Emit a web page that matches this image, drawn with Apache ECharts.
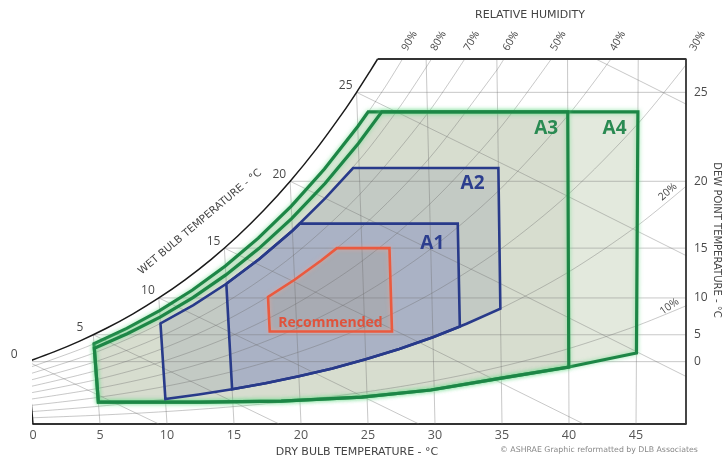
<!DOCTYPE html>
<html><head><meta charset="utf-8">
<script src="https://cdn.jsdelivr.net/npm/echarts/dist/echarts.min.js"></script>
<style>html,body{margin:0;padding:0;background:#fff}#c{width:722px;height:459px}</style>
</head><body><div id="c"></div>
<script>
// ---------- data (dry bulb T in °C, humidity ratio W in g/kg) ----------
const dryBulbTicks = [0,5,10,15,20,25,30,35,40,45];
const dryBulbGrid = [5,10,15,20,25,30,35,40,45];
const dryBulbGridEndW = [5.40,7.63,10.65,14.70,20.08,22.1,22.1,22.1,22.1];
const dewPointTicks = [0,5,10,15,20,25];
const dewPointW = [3.775,5.403,7.632,10.649,14.696,20.081];
const wetBulbTicks = [0,5,10,15,20,25];
// wet-bulb lines (0..30 °C): start / end points
const wbStartT = [0,5,10,15,20,25,42.0];
const wbStartW = [3.775,5.403,7.632,10.649,14.696,20.081,22.1];
const wbEndT = [9.39,18.37,28.8,41.1,48.73,48.73,48.73];
const wbEndW = [0,0,0,0,2.86,10.13,19.24];
const satT = [0,2,4,6,8,10,12,14,16,18,20,22,24,25,26,26.57];
const satW = [3.775,4.364,5.034,5.795,6.657,7.632,8.732,9.972,11.367,12.936,14.696,16.671,18.881,20.081,21.352,22.1];
const rhLevels = ['10%','20%','30%','40%','50%','60%','70%','80%','90%'];
const rhT = [
  [0,5,10,15,20,25,30,35,40,45,48.8],
  [0,5,10,15,20,25,30,35,40,45,48.8],
  [0,5,10,15,20,25,30,35,40,45,48.7],
  [0,5,10,15,20,25,30,35,40,43.07],
  [0,5,10,15,20,25,30,35,38.85],
  [0,5,10,15,20,25,30,35,35.5],
  [0,5,10,15,20,25,30,32.73],
  [0,5,10,15,20,25,28,30.38],
  [0,5,10,15,20,25,27,28.33]
];
const rhW = [
  [0.376,0.536,0.755,1.049,1.439,1.951,2.617,3.473,4.564,5.943,7.22],
  [0.751,1.073,1.511,2.101,2.885,3.915,5.256,6.986,9.197,12.0,14.61],
  [1.128,1.611,2.27,3.157,4.337,5.891,7.918,10.538,13.897,18.177,22.1],
  [1.505,2.15,3.03,4.216,5.796,7.88,10.602,14.13,18.669,22.1],
  [1.882,2.69,3.792,5.279,7.262,9.881,13.31,17.763,22.1],
  [2.26,3.231,4.557,6.346,8.735,11.895,16.04,21.44,22.1],
  [2.638,3.772,5.322,7.417,10.215,13.922,18.794,22.1],
  [3.017,4.315,6.09,8.49,11.702,15.962,19.151,22.1],
  [3.396,4.859,6.86,9.568,13.195,18.015,20.352,22.1]
];
// envelope outlines
const lowT = [45,40,35,29.75,24.6,18.6,12.6];
const lowW = [4.30,3.45,2.78,2.06,1.63,1.39,1.33];
const a4T = [5,5,7.5,10,12.5,15,17.5,20,22.5,25,25.78,45].concat(lowT);
const a4W = [1.33,4.859,5.786,6.86,8.112,9.568,11.255,13.195,15.439,18.015,18.9,18.9].concat(lowW);
const a3T = [5,5,7.5,10,12.5,15,17.5,20,22.5,25,26.75,40].concat(lowT.slice(1));
const a3W = [1.33,4.587,5.462,6.475,7.656,9.029,10.619,12.448,14.561,16.987,18.9,18.9].concat(lowW.slice(1));
const a2T = [10,10,12.5,15,17.5,20,22.5,24.56,35,35,32.5,30,27.5,25,22.5,20,17.5,15,12.5];
const a2W = [1.511,6.09,7.2,8.49,9.984,11.702,13.686,15.5,15.5,6.986,6.07,5.256,4.54,3.915,3.366,2.885,2.466,2.101,1.785];
const a1T = [15,15,17.5,20,20.56,32,32,30,27.5,25,22.5,20,17.5];
const a1W = [2.101,8.49,9.984,11.702,12.13,12.13,5.897,5.256,4.54,3.915,3.366,2.885,2.466];
const recT = [18,18,20,22,23.18,27,27];
const recW = [5.6,7.7,8.735,9.896,10.649,10.649,5.6];

// ---------- chart geometry ----------
const X_MAX = 48.73, W_MAX = 22.1;
const LEAN_A = 0.105, LEAN_B = 0.0025; // lean of the chart's dry-bulb lines (°C per g/kg)
const P = (T, W) => [T - (LEAN_A - LEAN_B * T) * W, W];
const pts = (Ts, Ws) => Ts.map((t, i) => P(t, Ws[i]));

const GRID = 'rgba(110,110,110,0.38)';
const series = [];
function poly(points, style, z) {
  series.push({ type: 'custom', coordinateSystem: 'cartesian2d', silent: true, clip: false, z: z,
    data: points,
    renderItem: (params, api) => params.dataIndex === 0 ? {
      type: 'polygon', shape: { points: points.map(p => api.coord(p)) }, style: style } : null });
}
function line(points, color, width, z, smooth, clip) {
  series.push({ type: 'line', data: points, symbol: 'none', silent: true, smooth: smooth || false,
    clip: clip === undefined ? true : clip, z: z, lineStyle: { color: color, width: width }, animation: false });
}
function texts(items, z) {
  series.push({ type: 'custom', coordinateSystem: 'cartesian2d', silent: true, clip: false, z: z || 20,
    data: items.map(it => it.p),
    renderItem: (params, api) => {
      const it = items[params.dataIndex];
      const c = api.coord(it.p);
      return { type: 'text', x: c[0] + (it.dx || 0), y: c[1] + (it.dy || 0), rotation: (it.rot || 0) * Math.PI / 180,
        style: { text: it.text, fill: it.color, fontSize: it.size, fontWeight: it.weight || 'normal',
          fontFamily: it.font || 'Open Sans, sans-serif', align: it.align || 'center', verticalAlign: 'middle' } };
    } });
}

// fills
const fill = (Ts, Ws, color, z) => poly(pts(Ts, Ws), { fill: color, stroke: null }, z);
fill(a4T, a4W, '#e3e9dd', 1);
fill(a3T, a3W, '#d7ddcf', 2);
fill(a2T, a2W, '#c3cac4', 3);
fill(a1T, a1W, '#aab2c5', 4);
fill(recT, recW, '#a8abb3', 5);

// grid lines
dryBulbGrid.forEach((t, i) => line([P(t, 0), P(t, dryBulbGridEndW[i] / 2), P(t, dryBulbGridEndW[i])], GRID, 1, 6));
dewPointTicks.forEach((d, i) => line([P(d, dewPointW[i]), [X_MAX, dewPointW[i]]], GRID, 1, 6));
rhT.forEach((Ts, k) => line(pts(Ts, rhW[k]), GRID, 1, 6, 0.3));
wbStartT.forEach((t, i) => {
  const a = [t, wbStartW[i]], b = [wbEndT[i], wbEndW[i]];
  line([P(a[0], a[1]), P((a[0] + b[0]) / 2, (a[1] + b[1]) / 2), P(b[0], b[1])], GRID, 1, 6);
});

// envelope outlines
const outline = (Ts, Ws, color, w, z, glow) => poly(pts(Ts, Ws),
  { fill: 'none', stroke: color, lineWidth: w, lineJoin: 'miter', shadowBlur: glow ? 4 : 0, shadowColor: glow || 'transparent' }, z);
outline(a4T, a4W, '#1d8646', 3.2, 7, 'rgba(110,220,140,0.75)');
outline(a3T, a3W, '#1d8646', 3.2, 8, 'rgba(110,220,140,0.75)');
outline(a2T, a2W, '#283a8a', 2.6, 9);
outline(a1T, a1W, '#283a8a', 2.6, 10);
outline(recT, recW, '#ea5a3f', 2.6, 11, 'rgba(255,160,140,0.6)');

// frame + saturation curve
line(pts(satT, satW), '#1a1a1a', 1.5, 12, 0.3, false);
line([P(0, 0), P(0, satW[0])], '#1a1a1a', 1.5, 12, false, false);
line([P(satT[satT.length - 1], W_MAX), [X_MAX, W_MAX], [X_MAX, 0]], '#333', 1.8, 12, false, false);

// tick labels
const LBL = '#4a4a4a';
texts(dewPointTicks.map((d, i) => ({ p: [X_MAX, dewPointW[i]], text: String(d), dx: 8, align: 'left', size: 12, color: LBL })));
texts(wetBulbTicks.map((t, i) => ({ p: P(t, dewPointW[i]), text: String(t), dx: t < 10 ? -10 : -4, dy: -7, align: 'right', size: 12, color: LBL })));
texts(rhLevels.map((r, k) => {
  const Ts = rhT[k], Ws = rhW[k], n = Ts.length - 1;
  if (Ws[n] >= W_MAX) return { p: P(Ts[n], Ws[n]), text: r, dx: 7, dy: -18, rot: 60, size: 10.5, color: LBL };
  return null;
}).filter(Boolean));
texts([
  { p: P(47.2, 13.51), text: '20%', dy: -9, rot: 41, size: 10.5, color: LBL },
  { p: P(47.4, 6.745), text: '10%', dy: -6, rot: 35, size: 10.5, color: LBL }
]);
// envelope names
texts([
  { p: [43.4, 17.9], text: 'A4', size: 19, weight: 'bold', color: '#2a8a52' },
  { p: [38.3, 17.9], text: 'A3', size: 19, weight: 'bold', color: '#2a8a52' },
  { p: [32.8, 14.55], text: 'A2', size: 19, weight: 'bold', color: '#2c3e8e' },
  { p: [29.8, 10.95], text: 'A1', size: 19, weight: 'bold', color: '#2c3e8e' },
  { p: [22.2, 6.1], text: 'Recommended', size: 14, weight: 'bold', color: '#e0533c' }
], 21);

const TF = 'DejaVu Sans, sans-serif';
const chart = echarts.init(document.getElementById('c'), null, { renderer: 'canvas' });
chart.setOption({
  animation: false,
  grid: { left: 33, right: 36, top: 59, bottom: 35 },
  xAxis: { type: 'value', min: 0, max: X_MAX, interval: 5,
    axisLine: { lineStyle: { color: '#333', width: 1.8 } }, axisTick: { show: false }, splitLine: { show: false },
    axisLabel: { color: '#555', fontSize: 12.5, margin: 5, fontFamily: 'Open Sans, sans-serif',
      formatter: v => dryBulbTicks.includes(v) ? String(v) : '' } },
  yAxis: { type: 'value', min: 0, max: W_MAX, show: false },
  graphic: [
    { type: 'text', x: 530, y: 15, style: { text: 'RELATIVE HUMIDITY', fill: '#444', fontSize: 11, fontFamily: TF, align: 'center', verticalAlign: 'middle' } },
    { type: 'text', x: 357, y: 452, style: { text: 'DRY BULB TEMPERATURE - °C', fill: '#444', fontSize: 11, fontFamily: TF, align: 'center', verticalAlign: 'middle' } },
    { type: 'text', x: 599, y: 450, style: { text: '© ASHRAE Graphic reformatted by DLB Associates', fill: '#888', fontSize: 7.8, fontFamily: TF, align: 'center', verticalAlign: 'middle' } },
    { type: 'text', x: 200, y: 222, rotation: 40 * Math.PI / 180, style: { text: 'WET BULB TEMPERATURE - °C', fill: '#444', fontSize: 10.5, fontFamily: TF, align: 'center', verticalAlign: 'middle' } },
    { type: 'text', x: 717, y: 240, rotation: -Math.PI / 2, style: { text: 'DEW POINT TEMPERATURE - °C', fill: '#444', fontSize: 10, fontFamily: TF, align: 'center', verticalAlign: 'middle' } }
  ],
  series: series
});
</script></body></html>
